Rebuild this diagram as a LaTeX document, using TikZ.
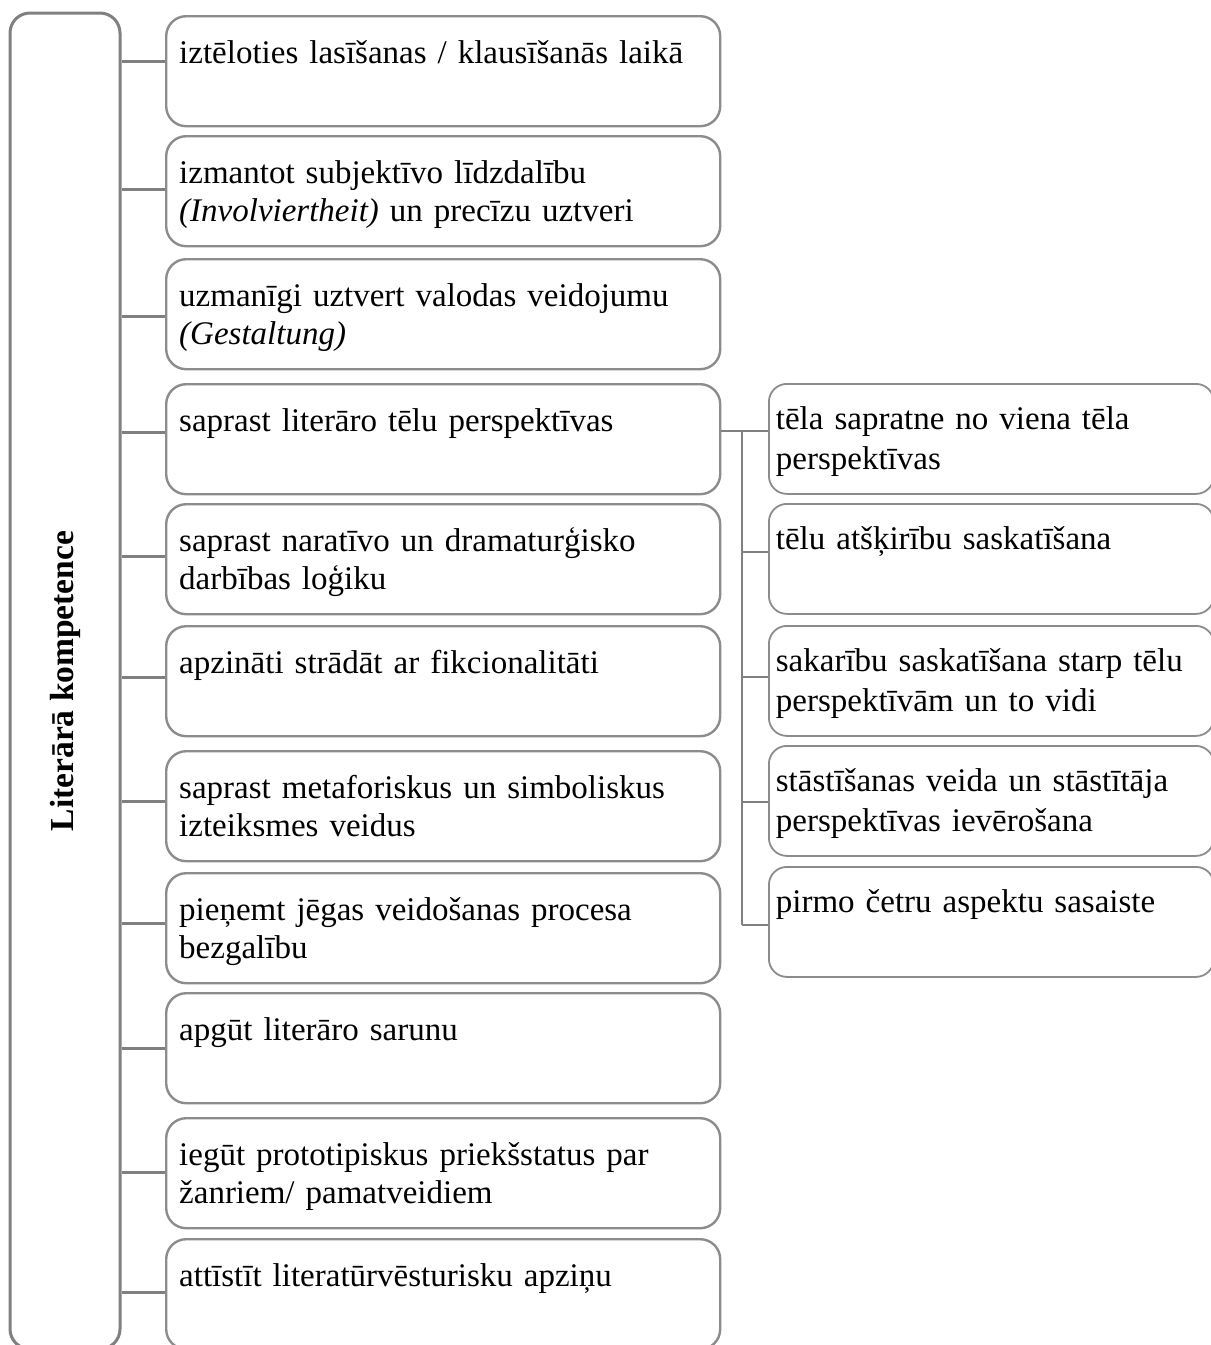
\documentclass[tikz,border=0pt]{standalone}
\usepackage{fontspec}
\setmainfont{Liberation Serif}
\usetikzlibrary{calc}
\definecolor{framegray}{RGB}{128,128,128}
\definecolor{boxgray}{RGB}{140,140,140}
\begin{document}
\begin{tikzpicture}[x=1pt,y=-1pt,
  midbox/.style={draw=boxgray, line width=2.4pt, rounded corners=20pt,
    anchor=north west, inner xsep=13pt, inner ysep=0pt,
    text width=528pt, align=left, text height=47pt, text depth=63pt,
    font=\fontsize{33}{38}\selectfont},
  subbox/.style={draw=boxgray, line width=1.8pt, rounded corners=18pt,
    anchor=north west, inner xsep=7pt, inner ysep=0pt,
    text width=431pt, align=left, text height=46pt, text depth=64pt,
    font=\fontsize{33}{40}\selectfont},
  link/.style={draw=framegray, line width=2.6pt}]
\useasboundingbox (0,0) rectangle (1211,1345);

% main frame with the rotated title
\node[draw=framegray, line width=3pt, rounded corners=20pt, rotate=90,
      minimum width=1336pt, minimum height=110pt, inner sep=0pt,
      font=\bfseries\fontsize{33.5}{38}\selectfont]
  (L) at (65,681) {Literārā kompetence};

% competence boxes
\node[midbox] (m1) at (165,15)   {iztēloties lasīšanas / klausīšanās laikā};
\node[midbox] (m2) at (165,135)  {izmantot subjektīvo līdzdalību\\\textit{(Involviertheit)} un precīzu uztveri};
\node[midbox] (m3) at (165,258)  {uzmanīgi uztvert valodas veidojumu\\\textit{(Gestaltung)}};
\node[midbox] (m4) at (165,383)  {saprast literāro tēlu perspektīvas};
\node[midbox] (m5) at (165,503)  {saprast naratīvo un dramaturģisko\\darbības loģiku};
\node[midbox] (m6) at (165,625)  {apzināti strādāt ar fikcionalitāti};
\node[midbox] (m7) at (165,750)  {saprast metaforiskus un simboliskus\\izteiksmes veidus};
\node[midbox] (m8) at (165,872)  {pieņemt jēgas veidošanas procesa\\bezgalību};
\node[midbox] (m9) at (165,992)  {apgūt literāro sarunu};
\node[midbox] (m10) at (165,1117) {iegūt prototipiskus priekšstatus par\\žanriem/ pamatveidiem};
\node[midbox] (m11) at (165,1238) {attīstīt literatūrvēsturisku apziņu};

% perspective sub-aspects
\node[subbox] (r1) at (768,383) {tēla sapratne no viena tēla\\perspektīvas};
\node[subbox] (r2) at (768,503) {tēlu atšķirību saskatīšana};
\node[subbox] (r3) at (768,625) {sakarību saskatīšana starp tēlu\\perspektīvām un to vidi};
\node[subbox] (r4) at (768,745) {stāstīšanas veida un stāstītāja\\perspektīvas ievērošana};
\node[subbox] (r5) at (768,866) {pirmo četru aspektu sasaiste};

% frame to competence boxes
\foreach \m/\dy in {m1/10,m2/2,m3/-2,m4/7,m5/3,m6/4,m7/5,m8/5,m9/0,m10/1,m11/2}
  \draw[link] ([yshift=\dy pt]\m.west -| L.south) -- ([yshift=\dy pt]\m.west);

% branch from the perspective box to its sub-aspects
\coordinate (trunk) at (742,431);
\draw[link] (m4.east |- trunk) -- (r1.west |- trunk);
\draw[link] (trunk) -- (trunk |- 0,925);
\foreach \r/\yy in {r2/552,r3/677,r4/802,r5/925}
  \draw[link] (trunk |- 0,\yy) -- (\r.west |- 0,\yy);
\end{tikzpicture}
\end{document}
